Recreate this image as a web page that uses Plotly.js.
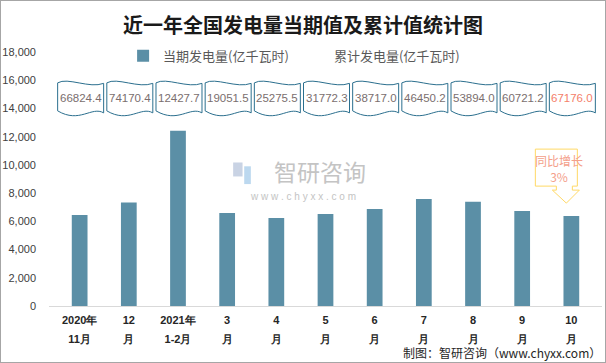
<!DOCTYPE html>
<html>
<head>
<meta charset="utf-8">
<script src="https://cdn.plot.ly/plotly-3.0.1.min.js"></script>
<style>
html,body{margin:0;padding:0;background:#fff;}
#chart{width:604px;height:361px;border:1px solid #a6a6a6;}
</style>
</head>
<body>
<div id="chart"></div>
<script>
// ---- data ----
const categories = ['2020年11月','12月','2021年1-2月','3月','4月','5月','6月','7月','8月','9月','10月'];
const tickLine1 = ['2020年','12','2021年','3','4','5','6','7','8','9','10'];
const tickLine2 = ['11月','月','1-2月','月','月','月','月','月','月','月','月'];
const monthlyValues = [6444, 7340, 12427.7, 6599, 6234, 6518, 6876, 7586, 7383, 6734, 6385];
const cumulativeValues = [66824.4, 74170.4, 12427.7, 19051.5, 25275.5, 31772.3, 38717.0, 46450.2, 53894.0, 60721.2, 67176.0];
const cumulativeLabels = ['66824.4','74170.4','12427.7','19051.5','25275.5','31772.3','38717.0','46450.2','53894.0','60721.2','67176.0'];
const seriesNames = ['当期发电量(亿千瓦时)', '累计发电量(亿千瓦时)'];
const yTickVals = [0,2000,4000,6000,8000,10000,12000,14000,16000,18000];
const yTickText = ['0','2,000','4,000','6,000','8,000','10,000','12,000','14,000','16,000','18,000'];
const titleText = '近一年全国发电量当期值及累计值统计图';
const calloutText = ['同比增长', '3%'];
const footerText = '制图：智研咨询（www.chyxx.com）';
const watermarkName = '智研咨询';
const watermarkUrl = 'w w w . c h y x x . c o m';

// ---- styles ----
const barColor = '#5b8fa6';
const boxLine = '#2b6f8e';
const cumTextColor = '#7a6e6e';
const highlightColor = '#f4806a';
const boxLevel = 14750;

const tickText = tickLine1.map((t, i) =>
  '<span style="font-size:11px">' + t + '</span><br><span style="font-size:11px">' + tickLine2[i] + '</span>');

const traces = [
  {
    type: 'bar', name: seriesNames[0], x: categories, y: monthlyValues,
    marker: {color: barColor}, hoverinfo: 'x+y'
  },
  {
    type: 'scatter', mode: 'markers', name: seriesNames[1], x: categories, y: cumulativeValues,
    marker: {color: 'rgba(0,0,0,0)', size: 1}, hoverinfo: 'skip'
  }
];

const wavePath = 'M -22,15 C -12,21 10,9 24,14.5 L 24,-15 C 12,-8 0,-26 -22,-13 Z';
const shapes = categories.map(c => ({
  type: 'path', xref: 'x', yref: 'y', xsizemode: 'pixel', ysizemode: 'pixel',
  xanchor: c, yanchor: boxLevel, path: wavePath,
  line: {color: boxLine, width: 1}, fillcolor: 'rgba(255,255,255,0)', layer: 'above'
}));
// callout arrow box on last category
shapes.push({
  type: 'path', xref: 'x', yref: 'y', xsizemode: 'pixel', ysizemode: 'pixel',
  xanchor: categories[categories.length - 1], yanchor: 8000,
  path: 'M -36,44 L 6,44 L 6,7 L 1,7 L 1,3 L 8,3 L -5,-10 L -19,3 L -15,3 L -15,7 L -36,7 Z',
  line: {color: '#ffd966', width: 1}, fillcolor: '#ffffff', layer: 'above'
});
// watermark logo blocks
shapes.push({type:'rect', xref:'paper', yref:'paper', x0:0.333, x1:0.350, y0:0.510, y1:0.565, fillcolor:'#c9d3e4', line:{width:0}, layer:'below'});
shapes.push({type:'rect', xref:'paper', yref:'paper', x0:0.353, x1:0.365, y0:0.480, y1:0.550, fillcolor:'#bcd8ef', line:{width:0}, layer:'below'});

const annotations = categories.map((c, i) => ({
  x: c, y: boxLevel, xref: 'x', yref: 'y', xshift: 1,
  text: cumulativeLabels[i], showarrow: false,
  font: {family: 'Liberation Sans, Arial', size: 11.5, color: i === categories.length - 1 ? highlightColor : cumTextColor}
}));
annotations.push({
  x: categories[categories.length - 1], y: 8000, xref: 'x', yref: 'y', xshift: -12, yshift: 25,
  text: calloutText.join('<br>'), showarrow: false,
  font: {family: 'Noto Sans CJK SC', size: 12, color: '#f4a08a'}
});
annotations.push({
  x: 1, y: -0.183, xref: 'paper', yref: 'paper', xanchor: 'right', yanchor: 'middle', xshift: 1,
  text: footerText, showarrow: false,
  font: {family: 'Noto Sans CJK SC', size: 12, color: '#262626'}
});
annotations.push({
  x: 0.49, y: 0.53, xref: 'paper', yref: 'paper', text: watermarkName, showarrow: false,
  font: {family: 'Noto Sans CJK SC', size: 23, color: '#c4c4c4'}
});
annotations.push({
  x: 0.459, y: 0.43, xref: 'paper', yref: 'paper', text: watermarkUrl, showarrow: false,
  font: {family: 'Liberation Sans, Arial', size: 10, color: '#c4c4c4'}
});

const layout = {
  width: 604, height: 361,
  margin: {l: 48, r: 3, t: 51, b: 56},
  paper_bgcolor: '#ffffff', plot_bgcolor: '#ffffff',
  bargap: 0.68,
  showlegend: true,
  title: {
    text: titleText, x: 0.5, xanchor: 'center', y: 1 - 25 / 361, yref: 'container', yanchor: 'middle',
    font: {family: 'Noto Sans CJK SC', size: 20, weight: 'bold', color: '#1a1a1a'}
  },
  legend: {
    orientation: 'h', x: 0.134, xanchor: 'left', y: 0.985, yanchor: 'middle',
    font: {family: 'Noto Sans CJK SC', size: 13, color: '#595959'},
    bgcolor: 'rgba(0,0,0,0)', itemwidth: 30, traceorder: 'normal'
  },
  xaxis: {
    type: 'category', categoryorder: 'array', categoryarray: categories,
    tickvals: categories, ticktext: tickText,
    tickfont: {family: 'Liberation Sans, Arial', size: 14.5, weight: 'bold', color: '#262626'},
    showline: true, linecolor: '#d9d9d9', linewidth: 1,
    ticks: '', showgrid: false, zeroline: false, fixedrange: true
  },
  yaxis: {
    range: [0, 18000], tickvals: yTickVals, ticktext: yTickText,
    tickfont: {family: 'Liberation Sans, Arial', size: 11, color: '#404040'},
    showgrid: false, zeroline: false, showline: false, ticks: '', ticklabelstandoff: 12, fixedrange: true
  },
  shapes: shapes,
  annotations: annotations
};

Plotly.newPlot('chart', traces, layout, {displayModeBar: false, staticPlot: true});
</script>
</body>
</html>
